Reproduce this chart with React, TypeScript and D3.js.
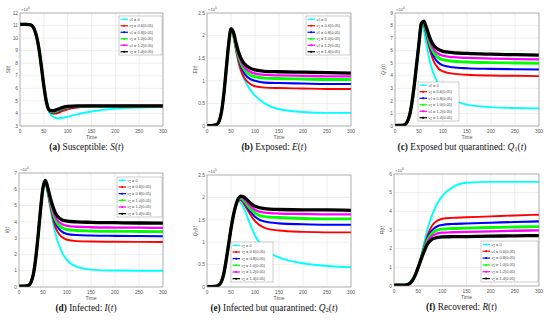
import React from 'react';
import * as d3 from 'd3';

// sample times (days)
const T = [0, 10, 20, 25, 30, 35, 40, 45, 50, 55, 60, 65, 70, 75, 80, 90, 100, 120, 150, 200, 250, 300];
const nuLabels = ['0', '0.6(0.05)', '0.8(0.05)', '1.0(0.05)', '1.2(0.05)', '1.4(0.05)'];
const xTicks = [0, 50, 100, 150, 200, 250, 300];

// (a) Susceptible S(t), x10^6
const S_0 = [11.1, 11.1, 11.08, 11.0, 10.7, 10.1, 9.1, 7.7, 6.2, 4.9, 4.2, 3.88, 3.72, 3.64, 3.62, 3.66, 3.75, 3.93, 4.15, 4.38, 4.47, 4.5];
const S_06 = [11.1, 11.1, 11.08, 11.0, 10.7, 10.1, 9.1, 7.7, 6.2, 5.0, 4.25, 4.05, 3.98, 3.99, 4.05, 4.2, 4.33, 4.47, 4.54, 4.55, 4.55, 4.55];
const S_08 = [11.1, 11.1, 11.08, 11.0, 10.7, 10.1, 9.1, 7.7, 6.2, 5.0, 4.28, 4.1, 4.07, 4.1, 4.17, 4.32, 4.44, 4.54, 4.57, 4.57, 4.57, 4.57];
const S_10 = [11.1, 11.1, 11.08, 11.0, 10.7, 10.1, 9.1, 7.7, 6.2, 5.0, 4.3, 4.15, 4.12, 4.16, 4.24, 4.38, 4.48, 4.56, 4.58, 4.58, 4.58, 4.58];
const S_12 = [11.1, 11.1, 11.08, 11.0, 10.7, 10.1, 9.1, 7.7, 6.2, 5.0, 4.32, 4.18, 4.17, 4.22, 4.3, 4.44, 4.53, 4.59, 4.6, 4.6, 4.6, 4.6];
const S_14 = [11.1, 11.1, 11.08, 11.0, 10.7, 10.1, 9.1, 7.7, 6.2, 5.0, 4.35, 4.22, 4.22, 4.28, 4.35, 4.48, 4.56, 4.6, 4.6, 4.6, 4.6, 4.6];

// (b) Exposed E(t), x10^5
const E_0 = [0.01, 0.01, 0.03, 0.1, 0.3, 0.7, 1.25, 1.8, 2.15, 1.98, 1.7, 1.45, 1.25, 1.1, 0.98, 0.8, 0.67, 0.5, 0.37, 0.31, 0.29, 0.29];
const E_06 = [0.01, 0.01, 0.03, 0.1, 0.3, 0.7, 1.25, 1.8, 2.15, 2.0, 1.7, 1.45, 1.25, 1.12, 1.03, 0.93, 0.88, 0.85, 0.84, 0.83, 0.82, 0.82];
const E_08 = [0.01, 0.01, 0.03, 0.1, 0.3, 0.7, 1.25, 1.8, 2.15, 2.02, 1.75, 1.52, 1.35, 1.22, 1.13, 1.04, 1.0, 0.96, 0.95, 0.94, 0.93, 0.93];
const E_10 = [0.01, 0.01, 0.03, 0.1, 0.3, 0.7, 1.25, 1.8, 2.15, 2.04, 1.78, 1.57, 1.41, 1.3, 1.22, 1.13, 1.09, 1.06, 1.05, 1.04, 1.03, 1.03];
const E_12 = [0.01, 0.01, 0.03, 0.1, 0.3, 0.7, 1.25, 1.8, 2.15, 2.06, 1.82, 1.61, 1.46, 1.35, 1.28, 1.2, 1.16, 1.13, 1.12, 1.11, 1.1, 1.1];
const E_14 = [0.01, 0.01, 0.03, 0.1, 0.3, 0.7, 1.25, 1.8, 2.15, 2.08, 1.86, 1.66, 1.52, 1.42, 1.35, 1.28, 1.24, 1.21, 1.2, 1.19, 1.18, 1.17];

// (c) Exposed but quarantined Q1(t), x10^4
const Q1_0 = [0.05, 0.05, 0.1, 0.3, 0.8, 1.8, 3.2, 4.9, 6.6, 8.0, 7.6, 6.6, 5.6, 4.8, 4.2, 3.35, 2.8, 2.15, 1.7, 1.5, 1.43, 1.4];
const Q1_06 = [0.05, 0.05, 0.1, 0.3, 0.8, 1.8, 3.2, 4.9, 6.6, 8.1, 8.0, 7.3, 6.45, 5.75, 5.2, 4.6, 4.35, 4.17, 4.08, 4.02, 4.0, 3.97];
const Q1_08 = [0.05, 0.05, 0.1, 0.3, 0.8, 1.8, 3.2, 4.9, 6.6, 8.15, 8.1, 7.45, 6.7, 6.05, 5.6, 5.05, 4.83, 4.68, 4.6, 4.55, 4.52, 4.5];
const Q1_10 = [0.05, 0.05, 0.1, 0.3, 0.8, 1.8, 3.2, 4.9, 6.6, 8.2, 8.2, 7.6, 6.9, 6.3, 5.9, 5.45, 5.28, 5.16, 5.1, 5.05, 5.02, 5.0];
const Q1_12 = [0.05, 0.05, 0.1, 0.3, 0.8, 1.8, 3.2, 4.9, 6.6, 8.2, 8.25, 7.75, 7.1, 6.55, 6.15, 5.75, 5.6, 5.48, 5.42, 5.37, 5.33, 5.3];
const Q1_14 = [0.05, 0.05, 0.1, 0.3, 0.8, 1.8, 3.2, 4.9, 6.6, 8.2, 8.35, 7.9, 7.3, 6.8, 6.45, 6.1, 5.95, 5.85, 5.78, 5.72, 5.68, 5.64];

// (d) Infected I(t), x10^4
const I_0 = [0.05, 0.05, 0.1, 0.3, 0.8, 1.8, 3.2, 4.8, 6.1, 6.35, 5.7, 4.9, 4.1, 3.4, 2.85, 2.1, 1.65, 1.25, 1.07, 1.01, 1.0, 1.0];
const I_06 = [0.05, 0.05, 0.1, 0.3, 0.8, 1.8, 3.2, 4.8, 6.1, 6.42, 5.82, 5.0, 4.3, 3.75, 3.4, 3.05, 2.9, 2.82, 2.79, 2.78, 2.77, 2.76];
const I_08 = [0.05, 0.05, 0.1, 0.3, 0.8, 1.8, 3.2, 4.8, 6.1, 6.45, 5.9, 5.15, 4.5, 4.0, 3.7, 3.38, 3.26, 3.19, 3.16, 3.14, 3.13, 3.12];
const I_10 = [0.05, 0.05, 0.1, 0.3, 0.8, 1.8, 3.2, 4.8, 6.1, 6.48, 5.95, 5.25, 4.65, 4.2, 3.9, 3.63, 3.53, 3.47, 3.44, 3.42, 3.41, 3.4];
const I_12 = [0.05, 0.05, 0.1, 0.3, 0.8, 1.8, 3.2, 4.8, 6.1, 6.5, 6.0, 5.35, 4.8, 4.38, 4.1, 3.85, 3.76, 3.7, 3.67, 3.65, 3.64, 3.63];
const I_14 = [0.05, 0.05, 0.1, 0.3, 0.8, 1.8, 3.2, 4.8, 6.1, 6.55, 6.1, 5.5, 5.0, 4.6, 4.35, 4.12, 4.05, 4.0, 3.97, 3.95, 3.93, 3.92];

// (e) Infected but quarantined Q2(t), x10^5
const Q2_0 = [0.01, 0.01, 0.02, 0.05, 0.12, 0.3, 0.6, 0.95, 1.3, 1.6, 1.82, 1.92, 1.88, 1.8, 1.68, 1.4, 1.15, 0.85, 0.66, 0.53, 0.47, 0.44];
const Q2_06 = [0.01, 0.01, 0.02, 0.05, 0.12, 0.3, 0.6, 0.95, 1.3, 1.6, 1.82, 1.93, 1.94, 1.89, 1.8, 1.62, 1.47, 1.32, 1.26, 1.23, 1.22, 1.22];
const Q2_08 = [0.01, 0.01, 0.02, 0.05, 0.12, 0.3, 0.6, 0.95, 1.3, 1.6, 1.82, 1.94, 1.96, 1.92, 1.85, 1.69, 1.57, 1.46, 1.42, 1.4, 1.39, 1.39];
const Q2_10 = [0.01, 0.01, 0.02, 0.05, 0.12, 0.3, 0.6, 0.95, 1.3, 1.6, 1.82, 1.95, 1.98, 1.95, 1.89, 1.75, 1.65, 1.57, 1.55, 1.53, 1.52, 1.52];
const Q2_12 = [0.01, 0.01, 0.02, 0.05, 0.12, 0.3, 0.6, 0.95, 1.3, 1.6, 1.82, 1.96, 2.0, 1.98, 1.93, 1.81, 1.72, 1.66, 1.64, 1.63, 1.62, 1.62];
const Q2_14 = [0.01, 0.01, 0.02, 0.05, 0.12, 0.3, 0.6, 0.95, 1.3, 1.6, 1.82, 1.97, 2.03, 2.02, 1.98, 1.88, 1.8, 1.75, 1.73, 1.72, 1.72, 1.71];

// (f) Recovered R(t), x10^6
const R_0 = [0.05, 0.05, 0.05, 0.06, 0.1, 0.2, 0.38, 0.65, 1.0, 1.5, 2.05, 2.6, 3.1, 3.52, 3.88, 4.45, 4.82, 5.27, 5.53, 5.58, 5.58, 5.58];
const R_06 = [0.05, 0.05, 0.05, 0.06, 0.1, 0.2, 0.38, 0.65, 1.0, 1.45, 1.9, 2.35, 2.75, 3.05, 3.28, 3.5, 3.6, 3.65, 3.68, 3.73, 3.78, 3.82];
const R_08 = [0.05, 0.05, 0.05, 0.06, 0.1, 0.2, 0.38, 0.65, 1.0, 1.42, 1.85, 2.25, 2.6, 2.85, 3.02, 3.2, 3.27, 3.32, 3.35, 3.39, 3.43, 3.46];
const R_10 = [0.05, 0.05, 0.05, 0.06, 0.1, 0.2, 0.38, 0.65, 1.0, 1.4, 1.8, 2.17, 2.48, 2.7, 2.85, 3.0, 3.05, 3.08, 3.1, 3.13, 3.16, 3.18];
const R_12 = [0.05, 0.05, 0.05, 0.06, 0.1, 0.2, 0.38, 0.65, 1.0, 1.38, 1.75, 2.1, 2.38, 2.58, 2.7, 2.82, 2.86, 2.88, 2.9, 2.93, 2.96, 2.98];
const R_14 = [0.05, 0.05, 0.05, 0.06, 0.1, 0.2, 0.38, 0.65, 1.0, 1.35, 1.7, 2.02, 2.27, 2.42, 2.52, 2.6, 2.63, 2.64, 2.65, 2.67, 2.69, 2.7];

const COLORS = ['#00ffff', '#ff0000', '#0000ff', '#00ff00', '#ff00ff', '#000000'];
const WIDTHS = [1.9, 1.9, 2.1, 2.9, 2.3, 3.3];
const FONT = 'Liberation Sans, Arial, sans-serif';
const SERIF = 'Liberation Serif, Times New Roman, serif';

const panels = [
  { id: 'a', x0: 20, y0: 13, x1: 163, y1: 126, yDom: [3, 12], yTicks: d3.range(3, 13, 1), exp: '6',
    ylab: 'S', sub: '', series: [S_0, S_06, S_08, S_10, S_12, S_14], leg: { x: 119, y: 16, w: 43, h: 39 },
    cap: { tag: '(a)', text: ' Susceptible: ', v: 'S', sub: '' } },
  { id: 'b', x0: 207, y0: 13, x1: 351, y1: 126, yDom: [0, 2.5], yTicks: d3.range(0, 2.51, 0.5), exp: '5',
    ylab: 'E', sub: '', series: [E_0, E_06, E_08, E_10, E_12, E_14], leg: { x: 306, y: 16, w: 44, h: 39 },
    cap: { tag: '(b)', text: ' Exposed: ', v: 'E', sub: '' } },
  { id: 'c', x0: 395, y0: 13, x1: 539, y1: 126, yDom: [0, 9], yTicks: d3.range(0, 10, 1), exp: '4',
    ylab: 'Q', sub: '1', series: [Q1_0, Q1_06, Q1_08, Q1_10, Q1_12, Q1_14], leg: { x: 418, y: 82, w: 41, h: 39 },
    cap: { tag: '(c)', text: ' Exposed but quarantined: ', v: 'Q', sub: '1' } },
  { id: 'd', x0: 19, y0: 173, x1: 163, y1: 287, yDom: [0, 7], yTicks: d3.range(0, 8, 1), exp: '4',
    ylab: 'I', sub: '', series: [I_0, I_06, I_08, I_10, I_12, I_14], leg: { x: 117, y: 177, w: 45, h: 40 },
    cap: { tag: '(d)', text: ' Infected: ', v: 'I', sub: '' } },
  { id: 'e', x0: 207, y0: 175, x1: 351, y1: 287, yDom: [0, 2.5], yTicks: d3.range(0, 2.51, 0.5), exp: '5',
    ylab: 'Q', sub: '2', series: [Q2_0, Q2_06, Q2_08, Q2_10, Q2_12, Q2_14], leg: { x: 231, y: 242, w: 42, h: 40 },
    cap: { tag: '(e)', text: ' Infected but quarantined: ', v: 'Q', sub: '2' } },
  { id: 'f', x0: 394, y0: 174, x1: 539, y1: 286, yDom: [0, 6], yTicks: d3.range(0, 7, 1), exp: '6',
    ylab: 'R', sub: '', series: [R_0, R_06, R_08, R_10, R_12, R_14], leg: { x: 481, y: 241, w: 57, h: 41 },
    cap: { tag: '(f)', text: ' Recovered: ', v: 'R', sub: '' } },
];

function Panel({ p }: { p: any }) {
  const x = d3.scaleLinear().domain([0, 300]).range([p.x0, p.x1]);
  const y = d3.scaleLinear().domain(p.yDom).range([p.y1, p.y0]);
  const line = d3.line<number>().x((_, i) => x(T[i])).y(d => y(d)).curve(d3.curveMonotoneX);
  const fmt = (v: number) => (Number.isInteger(v) ? String(v) : String(+v.toFixed(1)));
  const cx = (p.x0 + p.x1) / 2;
  const my = (p.y0 + p.y1) / 2;
  const L = p.leg;
  const rowH = L.h / 6;
  return (
    <g>
      <defs>
        <clipPath id={'clip' + p.id}>
          <rect x={p.x0} y={p.y0} width={p.x1 - p.x0} height={p.y1 - p.y0} />
        </clipPath>
      </defs>
      <rect x={p.x0} y={p.y0} width={p.x1 - p.x0} height={p.y1 - p.y0} fill="#fff" />
      {xTicks.map(t => (
        <line key={'gx' + t} x1={x(t)} x2={x(t)} y1={p.y0} y2={p.y1} stroke="#e3e3e3" strokeWidth={0.6} />
      ))}
      {p.yTicks.map((t: number) => (
        <line key={'gy' + t} x1={p.x0} x2={p.x1} y1={y(t)} y2={y(t)} stroke="#e3e3e3" strokeWidth={0.6} />
      ))}
      <g clipPath={`url(#clip${p.id})`}>
        {p.series.map((s: number[], i: number) => (
          <path key={i} d={line(s) || ''} fill="none" stroke={COLORS[i]} strokeWidth={WIDTHS[i]} strokeLinejoin="round" />
        ))}
      </g>
      <rect x={p.x0} y={p.y0} width={p.x1 - p.x0} height={p.y1 - p.y0} fill="none" stroke="#8a8a8a" strokeWidth={0.6} />
      {xTicks.map(t => (
        <text key={'tx' + t} x={x(t)} y={p.y1 + 6.5} fontSize={4.8} fill="#555" textAnchor="middle" fontFamily={FONT}>{t}</text>
      ))}
      {p.yTicks.map((t: number) => (
        <text key={'ty' + t} x={p.x0 - 2} y={y(t) + 1.7} fontSize={4.8} fill="#555" textAnchor="end" fontFamily={FONT}>{fmt(t)}</text>
      ))}
      <text x={p.x0 + 1} y={p.y0 - 2.5} fontSize={4.2} fill="#555" fontFamily={FONT}>
        ×10<tspan dy={-1.8} fontSize={3.2}>{p.exp}</tspan>
      </text>
      <text x={cx} y={p.y1 + 12.5} fontSize={5} fill="#555" textAnchor="middle" fontFamily={FONT}>Time</text>
      <text transform={`translate(${p.x0 - 10},${my}) rotate(-90)`} fontSize={5} fill="#555" textAnchor="middle" fontFamily={FONT}>
        <tspan fontStyle="italic">{p.ylab}</tspan>
        {p.sub ? <tspan dy={1} fontSize={3.6}>{p.sub}</tspan> : null}
        <tspan dy={p.sub ? -1 : 0}>(t)</tspan>
      </text>
      {/* legend */}
      <rect x={L.x} y={L.y} width={L.w} height={L.h} fill="#fff" stroke="#9a9a9a" strokeWidth={0.5} />
      {nuLabels.map((lab, i) => {
        const ry = L.y + rowH * (i + 0.5);
        return (
          <g key={'lg' + i}>
            <line x1={L.x + 1.5} x2={L.x + 9} y1={ry} y2={ry} stroke={COLORS[i]} strokeWidth={1.2} />
            <circle cx={L.x + 5.2} cy={ry} r={1} fill={COLORS[i]} />
            <text x={L.x + 10.5} y={ry + 1.4} fontSize={3.9} fill="#444" fontFamily={FONT}>
              <tspan fontStyle="italic">ν</tspan><tspan dy={0.8} fontSize={2.8}>2</tspan>
              <tspan dy={-0.8}>{' = ' + lab}</tspan>
            </text>
          </g>
        );
      })}
      <text x={cx - 5} y={p.y1 + 23.5} fontSize={9.3} fill="#111" textAnchor="middle" fontFamily={SERIF}>
        <tspan fontWeight="bold">{p.cap.tag}</tspan>
        <tspan>{p.cap.text}</tspan>
        <tspan fontStyle="italic">{p.cap.v}</tspan>
        {p.cap.sub ? <tspan dy={1.7} fontSize={6.5}>{p.cap.sub}</tspan> : null}
        <tspan dy={p.cap.sub ? -1.7 : 0}>(</tspan>
        <tspan fontStyle="italic">t</tspan>
        <tspan>)</tspan>
      </text>
    </g>
  );
}

export default function App() {
  return (
    <svg width={550} height={324} style={{ position: 'absolute', left: 0, top: 0, background: '#fff' }}>
      <rect width={550} height={324} fill="#fff" />
      {panels.map(p => <Panel key={p.id} p={p} />)}
    </svg>
  );
}
